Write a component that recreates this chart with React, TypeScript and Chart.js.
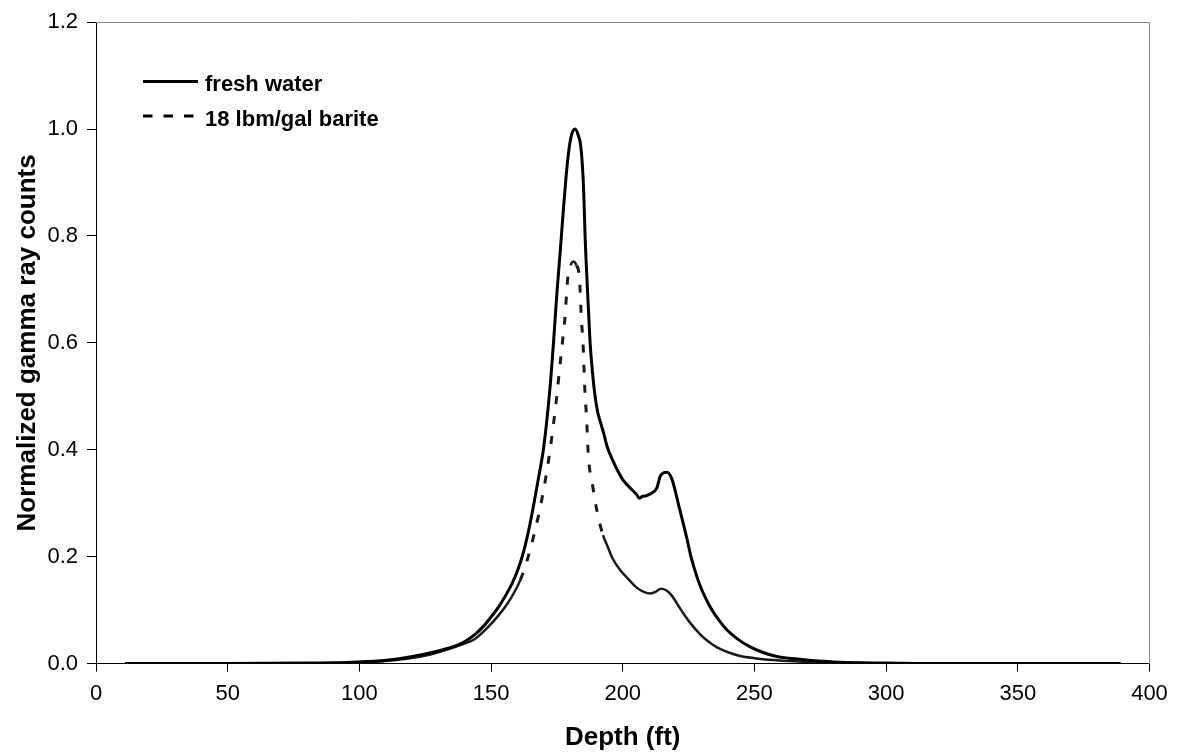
import React, { useEffect, useRef } from 'react';
import { Chart, registerables } from 'chart.js';

Chart.register(...registerables);

// ---- data ----
const freshDepth = [11, 50, 80, 95, 108, 115, 120.7, 128, 134, 138, 141, 144, 147, 150, 153, 155.5, 158, 160, 162, 164, 166, 168, 170, 172.4, 173.7, 175, 176.2, 177.5, 178.5, 179.4, 180.5, 181.9, 183, 184, 184.7, 185.2, 185.7, 186.6, 187.6, 188.5, 189.5, 190.5, 191.5, 192.7, 194, 196.5, 198.5, 200.3, 202.5, 205.3, 206.3, 207.5, 209, 210.4, 212.9, 214.2, 215.5, 216.7, 218.6, 221.2, 224.3, 226, 228.1, 230, 232, 234, 236.5, 239.5, 243.5, 248.4, 253, 258.5, 263, 267.3, 273, 280, 290, 300, 320, 350, 389];
const freshCounts = [0, 0, 0.001, 0.002, 0.005, 0.009, 0.0135, 0.021, 0.029, 0.036, 0.044, 0.055, 0.069, 0.087, 0.107, 0.127, 0.150, 0.173, 0.203, 0.243, 0.292, 0.347, 0.405, 0.517, 0.600, 0.693, 0.767, 0.852, 0.912, 0.955, 0.988, 1.0, 0.99, 0.97, 0.93, 0.88, 0.80, 0.70, 0.601, 0.545, 0.50, 0.47, 0.452, 0.432, 0.407, 0.377, 0.357, 0.342, 0.33, 0.316, 0.309, 0.313, 0.314, 0.317, 0.328, 0.35, 0.357, 0.358, 0.346, 0.297, 0.235, 0.198, 0.163, 0.138, 0.117, 0.099, 0.081, 0.063, 0.046, 0.031, 0.021, 0.013, 0.010, 0.008, 0.005, 0.003, 0.0015, 0.001, 0, 0, 0];

const bariteDepth = [11, 60, 90, 105, 113, 120.6, 127, 133.3, 138.5, 143.4, 148, 153, 157.5, 161.1, 163.7, 166, 168.1, 170.5, 172.5, 174, 175, 176, 177.1, 178, 179.2, 180.2, 181.3, 182.4, 183.5, 184.3, 184.9, 185.3, 185.7, 186.2, 187, 188.3, 190.2, 192.5, 194, 196, 199, 202.5, 205.3, 208, 210.4, 212.5, 214.5, 216.5, 218.5, 220.5, 223.1, 225.6, 229.5, 232.5, 235.8, 240, 244.6, 250, 257.2, 265, 275, 290, 310, 350, 389];
const bariteCounts = [0, 0, 0.001, 0.003, 0.006, 0.0106, 0.017, 0.026, 0.035, 0.0445, 0.064, 0.091, 0.122, 0.156, 0.193, 0.235, 0.279, 0.34, 0.403, 0.46, 0.502, 0.551, 0.601, 0.644, 0.725, 0.745, 0.752, 0.745, 0.725, 0.644, 0.601, 0.551, 0.502, 0.465, 0.384, 0.341, 0.286, 0.240, 0.222, 0.198, 0.175, 0.156, 0.142, 0.134, 0.131, 0.134, 0.140, 0.137, 0.128, 0.113, 0.093, 0.076, 0.054, 0.041, 0.030, 0.021, 0.014, 0.010, 0.0065, 0.004, 0.002, 0.001, 0, 0, 0];

const seriesLabels = ['fresh water', '18 lbm/gal barite'];
const xTitle = 'Depth (ft)';
const yTitle = 'Normalized gamma ray counts';
const xRange = [0, 400];
const xStep = 50;
const yRange = [0, 1.2];
const yStep = 0.2;

const FONT = "'Liberation Sans', Arial, sans-serif";

const toPoints = (xs: number[], ys: number[]) => xs.map((x, i) => ({ x, y: ys[i] }));

const plotBorder = {
  id: 'plotBorder',
  beforeDatasetsDraw(chart: any) {
    const { ctx, chartArea } = chart;
    const t = Math.round(chartArea.top) + 0.5;
    const r = Math.round(chartArea.right) - 0.5;
    const b = Math.round(chartArea.bottom);
    const l = Math.round(chartArea.left);
    ctx.save();
    ctx.strokeStyle = '#888888';
    ctx.lineWidth = 1;
    ctx.beginPath();
    ctx.moveTo(l, t);
    ctx.lineTo(r, t);
    ctx.lineTo(r, b);
    ctx.stroke();
    ctx.restore();
  },
};

const customLegend = {
  id: 'customLegend',
  afterDraw(chart: any) {
    const { ctx } = chart;
    const items = chart.data.datasets;
    const x0 = 143;
    const x1 = 198;
    const rows = [81.5, 116];
    ctx.save();
    items.forEach((ds: any, i: number) => {
      const y = rows[i];
      ctx.beginPath();
      ctx.strokeStyle = '#000';
      ctx.lineWidth = 3;
      ctx.setLineDash(i === 1 ? [9.5, 11] : []);
      ctx.moveTo(x0, y);
      ctx.lineTo(i === 1 ? 194 : x1, y);
      ctx.stroke();
      ctx.setLineDash([]);
      ctx.fillStyle = '#000';
      ctx.font = `bold 22px ${FONT}`;
      ctx.textBaseline = 'alphabetic';
      ctx.textAlign = 'left';
      ctx.fillText(ds.label, 205, y + 9.5);
    });
    ctx.restore();
  },
};

export default function App() {
  const ref = useRef<HTMLCanvasElement | null>(null);

  useEffect(() => {
    document.body.style.margin = '0';
    const canvas = ref.current;
    if (!canvas) return;
    const isSteep = (ctx: any) => {
      const dx = Math.abs(ctx.p1.x - ctx.p0.x);
      const dy = Math.abs(ctx.p1.y - ctx.p0.y);
      return dy > 2.5 * dx;
    };
    const chart = new Chart(canvas, {
      type: 'line',
      data: {
        datasets: [
          {
            label: seriesLabels[0],
            data: toPoints(freshDepth, freshCounts),
            borderColor: '#000',
            borderWidth: 3,
            pointRadius: 0,
            fill: false,
            cubicInterpolationMode: 'monotone',
          },
          {
            label: seriesLabels[1],
            data: toPoints(bariteDepth, bariteCounts),
            borderColor: '#1a1a1a',
            borderWidth: 2.5,
            pointRadius: 0,
            fill: false,
            cubicInterpolationMode: 'monotone',
            segment: {
              borderDash: (ctx: any) => (isSteep(ctx) ? [8, 12] : undefined),
              borderWidth: (ctx: any) => (isSteep(ctx) ? 3 : undefined),
            },
          },
        ],
      },
      options: {
        responsive: false,
        animation: false,
        devicePixelRatio: 1,
        layout: { padding: { top: 16.5, right: 27.5, left: 0, bottom: 0 } },
        plugins: {
          legend: { display: false },
          tooltip: { enabled: false },
        },
        scales: {
          x: {
            type: 'linear',
            min: xRange[0],
            max: xRange[1],
            afterFit: (s: any) => { s.height = 91.5; },
            ticks: {
              stepSize: xStep,
              color: '#000',
              font: { family: FONT, size: 22 },
              padding: 9,
              maxRotation: 0,
            },
            grid: { display: true, drawOnChartArea: false, drawTicks: true, tickLength: 8, color: '#000' },
            border: { display: true, color: '#000', width: 1 },
            title: {
              display: true,
              text: xTitle,
              color: '#000',
              font: { family: FONT, size: 26, weight: 'bold' },
              padding: { top: 0, bottom: 2 },
            },
          },
          y: {
            type: 'linear',
            min: yRange[0],
            max: yRange[1],
            afterFit: (s: any) => { s.width = 96; },
            ticks: {
              stepSize: yStep,
              color: '#000',
              font: { family: FONT, size: 22 },
              padding: 9,
              callback: (v: any) => Number(v).toFixed(1),
            },
            grid: { display: true, drawOnChartArea: false, drawTicks: true, tickLength: 9, color: '#000' },
            border: { display: true, color: '#000', width: 1 },
            title: {
              display: true,
              text: yTitle,
              color: '#000',
              font: { family: FONT, size: 26, weight: 'bold' },
              padding: { top: 12, bottom: 0 },
            },
          },
        },
      },
      plugins: [plotBorder, customLegend],
    } as any);
    return () => chart.destroy();
  }, []);

  return (
    <div style={{ position: 'absolute', left: 0, top: 0, width: 1177, height: 755, background: '#fff' }}>
      <canvas ref={ref} width={1177} height={755} style={{ width: 1177, height: 755, display: 'block' }} />
    </div>
  );
}
